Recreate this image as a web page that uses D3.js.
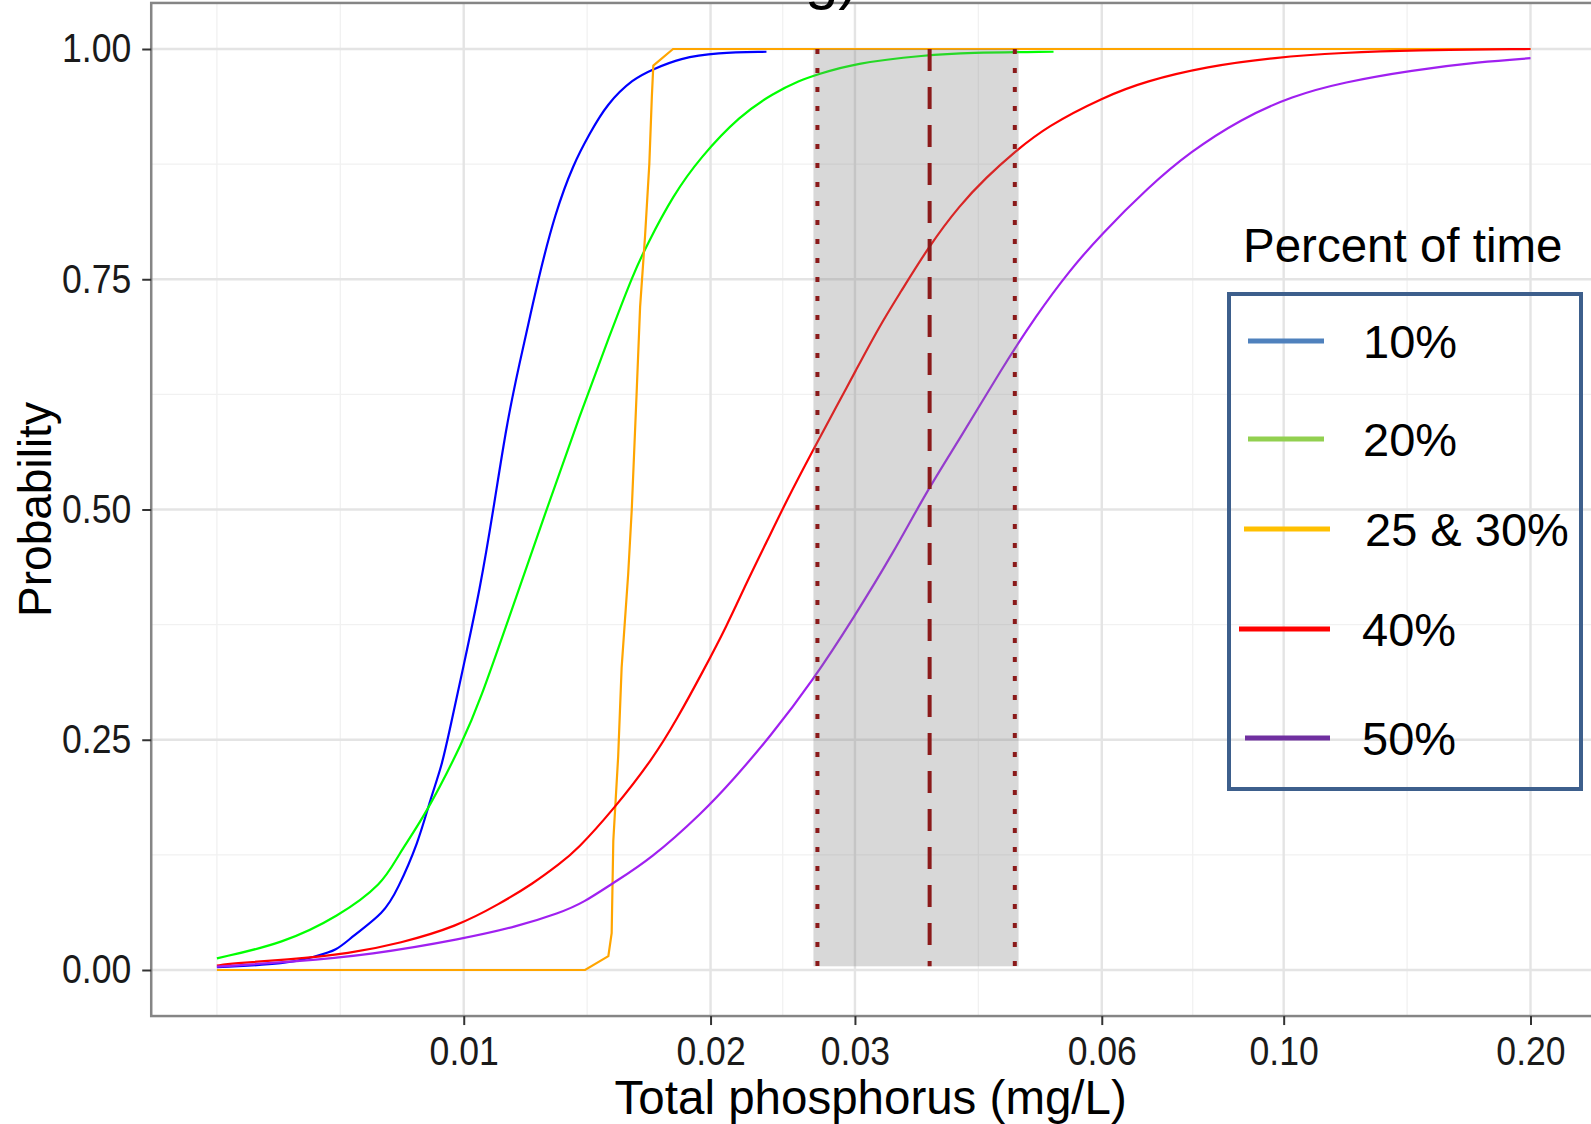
<!DOCTYPE html>
<html>
<head>
<meta charset="utf-8">
<script src="https://cdn.jsdelivr.net/npm/d3@7"></script>
<style>
  body { margin: 0; background: #fff; }
  text { font-family: "Liberation Sans", Arial, sans-serif; }
</style>
</head>
<body>
<div class="chart"></div>
<script>
// values: [total phosphorus mg/L, probability]
var p10 = [[0.005,0.003],[0.0061,0.0065],[0.0066,0.015],[0.0070,0.021],[0.0073,0.036],[0.0080,0.062],[0.0083,0.087],
  [0.0088,0.138],[0.0091,0.185],[0.0094,0.221],[0.0096,0.258],[0.0100,0.331],[0.01047,0.414],[0.01087,0.5],
  [0.01128,0.593],[0.01171,0.661],[0.01205,0.71],[0.01239,0.758],[0.01292,0.821],[0.0136,0.875],[0.01426,0.909],
  [0.01494,0.94],[0.0161,0.968],[0.01703,0.978],[0.01835,0.99],[0.02035,0.996],[0.0234,0.997]];
var p20 = [[0.005,0.0127],[0.00603,0.029],[0.00703,0.058],[0.00798,0.094],[0.00829,0.123],[0.00901,0.17],[0.0100,0.25],
  [0.01047,0.293],[0.01128,0.375],[0.01262,0.5],[0.01386,0.603],[0.01508,0.69],[0.0161,0.756],[0.01672,0.787],
  [0.018,0.841],[0.01942,0.882],[0.02173,0.928],[0.02386,0.952],[0.02571,0.966],[0.02695,0.972],[0.02987,0.9845],
  [0.0367,0.9935],[0.0411,0.996],[0.0524,0.997]];
var p25 = [[0.005,0],[0.01406,0],[0.01501,0.015],[0.01515,0.04],[0.01522,0.14],[0.01543,0.232],[0.01558,0.328],
  [0.01587,0.43],[0.01603,0.5],[0.01626,0.632],[0.01641,0.72],[0.01664,0.797],[0.01684,0.875],[0.01696,0.948],
  [0.01703,0.982],[0.018,1.0],[0.2,1.0]];
var p40 = [[0.005,0.0047],[0.00521,0.0073],[0.00608,0.011],[0.00727,0.018],[0.00836,0.029],[0.0098,0.047],[0.01107,0.072],
  [0.01216,0.094],[0.0131,0.1155],[0.01373,0.13],[0.01522,0.174],[0.01703,0.23],[0.01819,0.272],[0.0196,0.325],
  [0.02093,0.3735],[0.02214,0.421],[0.02342,0.465],[0.02477,0.51],[0.02669,0.565],[0.02877,0.619],[0.02987,0.646],
  [0.03218,0.70],[0.03405,0.735],[0.03687,0.785],[0.0403,0.831],[0.04343,0.861],[0.04679,0.887],[0.0514,0.916],
  [0.0604,0.948],[0.0678,0.965],[0.0806,0.981],[0.0976,0.991],[0.1183,0.996],[0.1433,0.9988],[0.2,1.0]];
var p50 = [[0.005,0.0036],[0.0062,0.009],[0.00769,0.0163],[0.0100,0.034],[0.0116,0.047],[0.0131,0.062],[0.01399,0.073],
  [0.01522,0.0947],[0.01687,0.1197],[0.0196,0.1717],[0.02133,0.207],[0.02363,0.253],[0.02669,0.315],[0.02987,0.382],
  [0.03342,0.453],[0.0367,0.52],[0.0403,0.577],[0.0453,0.653],[0.04985,0.710],[0.05487,0.760],[0.0598,0.798],
  [0.0684,0.850],[0.0768,0.888],[0.0887,0.924],[0.1024,0.949],[0.1183,0.964],[0.1433,0.977],[0.1737,0.986],[0.2,0.990]];

var seriesData = [p10, p20, p25, p40, p50];
var seriesColors = ['#0000ff', '#00ff00', '#ffa500', '#ff0000', '#a020f0'];

var xTicks = [0.01, 0.02, 0.03, 0.06, 0.10, 0.20];
var xTickLabels = ['0.01', '0.02', '0.03', '0.06', '0.10', '0.20'];
var yTicks = [0, 0.25, 0.5, 0.75, 1];

var band = [0.0267, 0.0475, 0.004, 1.0];   // xmin, xmax, ymin, ymax
var dottedAt = [0.027, 0.047];
var dashedAt = [0.037];

var legendLabels = ['10%', '20%', '25 & 30%', '40%', '50%'];
var legendColors = ['#4f81bd', '#92d050', '#ffc000', '#ff0000', '#7030a0'];

var width = 1591, height = 1124;

var svg = d3.select('div.chart').append('svg')
    .attr('width', width)
    .attr('height', height);

var x = d3.scaleLog().domain([0.005, 0.2]).range([216.9, 1530.5]);
var y = d3.scaleLinear().domain([0, 1]).range([970, 49]);

// panel limits with ggplot-like expansion
var lx0 = Math.log10(0.005), lx1 = Math.log10(0.2), pad = (lx1 - lx0) * 0.05;
var panelLeft = x(Math.pow(10, lx0 - pad)), panelRight = x(Math.pow(10, lx1 + pad));
var panelTop = y(1.05), panelBottom = y(-0.05);

// minor grid: midpoints between major breaks (log space), plus the extended break
var ext = [Math.log10(0.005)].concat(xTicks.map(function (d) { return Math.log10(d); }));
var xMinor = [];
for (var i = 0; i < ext.length - 1; i++) {
  xMinor.push(ext[i], (ext[i] + ext[i + 1]) / 2);
}
var yMinor = [0.125, 0.375, 0.625, 0.875];

var grid = svg.append('g').attr('class', 'grid');
grid.selectAll('line.xminor').data(xMinor).enter().append('line')
    .attr('x1', function (d) { return x(Math.pow(10, d)); })
    .attr('x2', function (d) { return x(Math.pow(10, d)); })
    .attr('y1', panelTop).attr('y2', panelBottom)
    .attr('stroke', '#f1f1f1').attr('stroke-width', 1.3);
grid.selectAll('line.yminor').data(yMinor).enter().append('line')
    .attr('y1', function (d) { return y(d); })
    .attr('y2', function (d) { return y(d); })
    .attr('x1', panelLeft).attr('x2', panelRight)
    .attr('stroke', '#f1f1f1').attr('stroke-width', 1.3);
grid.selectAll('line.xmajor').data(xTicks).enter().append('line')
    .attr('x1', function (d) { return x(d); })
    .attr('x2', function (d) { return x(d); })
    .attr('y1', panelTop).attr('y2', panelBottom)
    .attr('stroke', '#e4e4e4').attr('stroke-width', 2.4);
grid.selectAll('line.ymajor').data(yTicks).enter().append('line')
    .attr('y1', function (d) { return y(d); })
    .attr('y2', function (d) { return y(d); })
    .attr('x1', panelLeft).attr('x2', panelRight)
    .attr('stroke', '#e4e4e4').attr('stroke-width', 2.4);

// curves (the step series is drawn straight, the others smoothed)
var smooth = d3.line()
    .x(function (d) { return x(d[0]); })
    .y(function (d) { return y(d[1]); })
    .curve(d3.curveBasis);
var straight = d3.line()
    .x(function (d) { return x(d[0]); })
    .y(function (d) { return y(d[1]); });

svg.selectAll('path.curve')
  .data(seriesData)
  .enter()
  .append('path')
  .attr('class', 'curve')
  .attr('d', function (d, i) { return i === 2 ? straight(d) : smooth(d); })
  .attr('fill', 'none')
  .attr('stroke', function (d, i) { return seriesColors[i]; })
  .attr('stroke-width', 2.2);

// shaded interval and reference lines
svg.append('rect')
  .attr('x', x(band[0]))
  .attr('width', x(band[1]) - x(band[0]))
  .attr('y', y(band[3]))
  .attr('height', y(band[2]) - y(band[3]))
  .attr('fill', '#7f7f7f')
  .attr('fill-opacity', 0.3);

svg.selectAll('line.dotted').data(dottedAt).enter().append('line')
  .attr('x1', function (d) { return x(d); })
  .attr('x2', function (d) { return x(d); })
  .attr('y1', y(band[3])).attr('y2', y(band[2]))
  .attr('stroke', '#8b1a1a').attr('stroke-width', 4)
  .attr('stroke-dasharray', '5,14');

svg.selectAll('line.dashed').data(dashedAt).enter().append('line')
  .attr('x1', function (d) { return x(d); })
  .attr('x2', function (d) { return x(d); })
  .attr('y1', y(band[3])).attr('y2', y(band[2]))
  .attr('stroke', '#8b1a1a').attr('stroke-width', 4)
  .attr('stroke-dasharray', '22,16');

// panel border
svg.append('rect')
  .attr('x', panelLeft).attr('y', panelTop)
  .attr('width', panelRight - panelLeft)
  .attr('height', panelBottom - panelTop)
  .attr('fill', 'none')
  .attr('stroke', '#858585')
  .attr('stroke-width', 2.5);

// tick labels in the picture are taller than they are wide: bigger font, squeezed
function squeeze(sel) {
  sel.each(function () {
    var len = this.getComputedTextLength();
    d3.select(this).attr('textLength', len * 0.89).attr('lengthAdjust', 'spacingAndGlyphs');
  });
}

// axes
var xAxis = d3.axisBottom(x).tickValues(xTicks)
    .tickFormat(function (d, i) { return xTickLabels[i]; })
    .tickSize(9).tickPadding(12);
var xg = svg.append('g')
  .attr('class', 'x axis')
  .attr('transform', 'translate(0,' + panelBottom + ')')
  .call(xAxis);
xg.select('.domain').remove();
xg.selectAll('line').attr('stroke', '#333').attr('stroke-width', 2);
xg.selectAll('text').attr('font-size', 40).attr('fill', '#1a1a1a')
  .attr('font-family', '"Liberation Sans", Arial, sans-serif')
  .call(squeeze);

var yAxis = d3.axisLeft(y).tickValues(yTicks)
    .tickFormat(d3.format('.2f'))
    .tickSize(9).tickPadding(11);
var yg = svg.append('g')
  .attr('class', 'y axis')
  .attr('transform', 'translate(' + panelLeft + ',0)')
  .call(yAxis);
yg.select('.domain').remove();
yg.selectAll('line').attr('stroke', '#333').attr('stroke-width', 2);
yg.selectAll('text').attr('font-size', 40).attr('fill', '#1a1a1a')
  .attr('font-family', '"Liberation Sans", Arial, sans-serif')
  .call(squeeze);

// titles
svg.append('text')
  .attr('x', (panelLeft + panelRight) / 2 - 3)
  .attr('y', 1114)
  .attr('text-anchor', 'middle')
  .attr('font-size', 47.5)
  .attr('fill', '#000')
  .text('Total phosphorus (mg/L)');

svg.append('text')
  .attr('transform', 'translate(51,' + ((panelTop + panelBottom) / 2) + ') rotate(-90)')
  .attr('text-anchor', 'middle')
  .attr('font-size', 46)
  .attr('fill', '#000')
  .text('Probability');

svg.append('text')
  .attr('x', 805)
  .attr('y', -2)
  .attr('font-size', 60)
  .attr('fill', '#000')
  .text('g)');

// legend
svg.append('text')
  .attr('x', 1243)
  .attr('y', 262)
  .attr('font-size', 47.5)
  .attr('fill', '#000')
  .text('Percent of time');

svg.append('rect')
  .attr('x', 1229).attr('y', 294)
  .attr('width', 352).attr('height', 495)
  .attr('fill', 'none')
  .attr('stroke', '#3d5f8c')
  .attr('stroke-width', 4);

var legendRowY = [341, 439, 529, 629, 738];
var legendLineX = [[1248, 1324], [1248, 1324], [1244, 1330], [1239, 1330], [1245, 1330]];
var legendTextX = [1363, 1363, 1365, 1362, 1362];

var lg = svg.append('g').attr('class', 'legend');
lg.selectAll('line').data(legendLabels).enter().append('line')
  .attr('x1', function (d, i) { return legendLineX[i][0]; })
  .attr('x2', function (d, i) { return legendLineX[i][1]; })
  .attr('y1', function (d, i) { return legendRowY[i]; })
  .attr('y2', function (d, i) { return legendRowY[i]; })
  .attr('stroke', function (d, i) { return legendColors[i]; })
  .attr('stroke-width', 5);
lg.selectAll('text').data(legendLabels).enter().append('text')
  .attr('x', function (d, i) { return legendTextX[i]; })
  .attr('y', function (d, i) { return legendRowY[i] + 17; })
  .attr('font-size', 47)
  .attr('fill', '#000')
  .text(function (d) { return d; });
</script>
</body>
</html>
